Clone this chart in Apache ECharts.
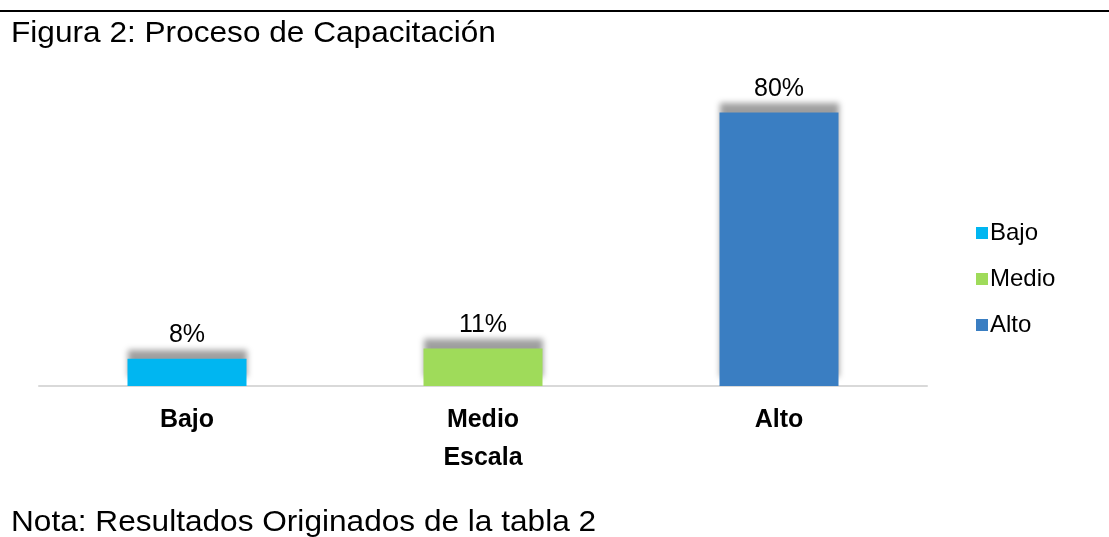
<!DOCTYPE html>
<html>
<head>
<meta charset="utf-8">
<script src="https://cdn.jsdelivr.net/npm/echarts@6/dist/echarts.min.js"></script>
<style>
  html, body { margin: 0; padding: 0; background: #fff; }
  #chart { width: 1109px; height: 537px; }
</style>
</head>
<body>
<div id="chart"></div>
<script>
// datos del gráfico
const categorias = ['Bajo', 'Medio', 'Alto'];
const valores = [8, 11, 80];
const colores = ['#00B6F1', '#9FDB5A', '#3A7EC2'];

const fuente = '"Liberation Sans", Arial, sans-serif';

// una serie por nivel, apiladas para que cada barra quede centrada
const series = categorias.map((nombre, i) => ({
  name: nombre,
  type: 'bar',
  stack: 'total',
  barWidth: 119,
  data: categorias.map((c, j) => (j === i ? valores[i] : null)),
  itemStyle: {
    color: colores[i],
    shadowColor: 'rgba(0,0,0,0.38)',
    shadowBlur: 6,
    shadowOffsetY: -9
  },
  label: {
    show: true,
    position: 'top',
    distance: 11,
    formatter: '{c}%',
    fontFamily: fuente,
    fontSize: 25,
    color: '#000'
  }
}));

const chart = echarts.init(document.getElementById('chart'));
chart.setOption({
  animation: false,
  graphic: [
    {
      type: 'line',
      shape: { x1: 0, y1: 11, x2: 1109, y2: 11 },
      style: { stroke: '#000', lineWidth: 2 }
    },
    {
      type: 'text',
      x: 11,
      y: 34,
      scaleX: 1.09,
      style: {
        text: 'Figura 2: Proceso de Capacitación',
        fontFamily: fuente,
        fontSize: 29,
        verticalAlign: 'middle',
        fill: '#000'
      }
    },
    {
      type: 'text',
      x: 11,
      y: 523,
      scaleX: 1.09,
      style: {
        text: 'Nota: Resultados Originados de la tabla 2',
        fontFamily: fuente,
        fontSize: 29,
        verticalAlign: 'middle',
        fill: '#000'
      }
    }
  ],
  legend: {
    orient: 'vertical',
    left: 971,
    top: 216,
    itemWidth: 12,
    itemHeight: 12,
    itemGap: 22,
    icon: 'rect',
    data: categorias,
    textStyle: {
      fontFamily: fuente, fontSize: 24, color: '#000',
      padding: [0, 0, 8, -3]
    }
  },
  grid: { left: 39, right: 182, top: 44, bottom: 151 },
  xAxis: {
    type: 'category',
    data: categorias,
    name: 'Escala',
    nameLocation: 'middle',
    nameGap: 60,
    nameTextStyle: { fontFamily: fuente, fontSize: 25, fontWeight: 'bold', color: '#000' },
    axisLine: { lineStyle: { color: '#d9d9d9', width: 2 } },
    axisTick: { show: false },
    axisLabel: { fontFamily: fuente, fontSize: 25, fontWeight: 'bold', color: '#000', margin: 22 }
  },
  yAxis: {
    type: 'value',
    min: 0,
    max: 100,
    show: false,
    splitLine: { show: false }
  },
  series: series
});
</script>
</body>
</html>
